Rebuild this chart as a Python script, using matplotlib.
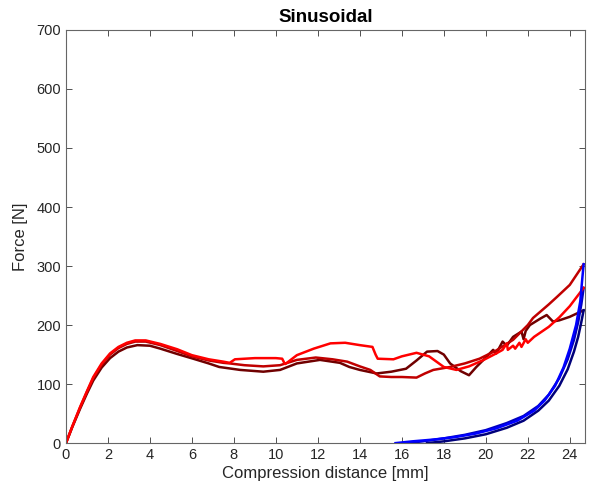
import numpy as np
from matplotlib import pyplot as plt

plt.rcParams['font.family'] = ['Liberation Sans', 'DejaVu Sans']

# loading curves (compression distance [mm], force [N])
x_load_a = [0, 0.3, 0.67, 1.0, 1.3, 1.7, 2.1, 2.5, 2.9, 3.3, 3.8, 4.5, 5.3, 6.0, 6.8, 7.5, 7.8, 8.05,
            9.0, 10.0, 10.3, 10.4, 10.45, 11.0, 11.8, 12.6, 13.3, 14.0, 14.6, 14.75, 14.85, 15.6, 16.0,
            16.7, 17.3, 18.0, 18.6, 19.2, 19.9, 20.5, 20.8, 21.0, 21.05, 21.3, 21.4, 21.6, 21.7, 21.9,
            22.0, 22.3, 23.0, 23.5, 24.0, 24.66]
y_load_a = [0, 28, 61, 88, 112, 135, 152, 163, 170, 174, 174, 168, 159, 149, 142, 138, 136, 142,
            144, 144, 143, 136, 134, 149, 160, 169, 170, 166, 163, 150, 143, 142, 147,
            153, 147, 129, 124, 130, 141, 152, 158, 169, 158, 165, 160, 170, 163, 176,
            170, 180, 197, 213, 232, 263]

x_load_b = [0, 0.3, 0.67, 1.0, 1.3, 1.7, 2.1, 2.5, 2.9, 3.3, 3.8, 4.5, 5.3, 6.0, 6.8, 7.5, 7.8, 8.5,
            9.4, 10.2, 11.0, 11.9, 12.7, 13.4, 14.0, 14.5, 14.95, 15.5, 16.0, 16.7, 17.1, 17.5, 18.3,
            19.0, 19.7, 20.5, 21.3, 22.0, 22.25, 23.0, 23.4, 24.0, 24.66]
y_load_b = [0, 28, 60, 87, 110, 133, 150, 161, 168, 172, 172, 166, 156, 147, 140, 136, 135, 132,
            130, 132, 141, 145, 142, 138, 130, 124, 113, 112, 112, 111, 118, 124, 129,
            135, 143, 157, 175, 200, 212, 235, 248, 268, 303]

x_load_c = [0, 0.3, 0.67, 1.0, 1.3, 1.7, 2.1, 2.5, 2.9, 3.4, 4.0, 4.5, 5.3, 6.06, 6.8, 7.3, 8.3,
            9.4, 10.2, 11.0, 12.1, 13.05, 13.5, 14.0, 14.8, 15.5, 16.2, 16.7, 17.2, 17.7, 18.0, 18.3,
            18.8, 19.2, 19.55, 20.0, 20.35, 20.5, 20.8, 21.0, 21.3, 21.7, 21.8, 21.9, 22.1, 22.6,
            22.9, 23.2, 23.5, 24.0, 24.66]
y_load_c = [0, 27, 58, 84, 106, 128, 144, 155, 162, 166, 165, 160, 151, 143, 135, 129, 124,
            121, 124, 135, 141, 136, 129, 124, 118, 121, 126, 140, 155, 156, 150, 135,
            122, 115, 129, 145, 158, 152, 172, 165, 180, 189, 176, 190, 200, 211,
            217, 206, 208, 214, 225]

# unloading curves
x_unload_a = [24.66, 24.6, 24.5, 24.3, 24.0, 23.7, 23.3, 22.8, 22.3, 21.5, 20.5, 19.5, 18.5, 17.5, 16.5, 15.7]
y_unload_a = [303, 280, 240, 200, 160, 128, 97, 72, 55, 38, 25, 16, 10, 6, 3, 0]

x_unload_b = [24.66, 24.55, 24.4, 24.2, 23.9, 23.5, 23.0, 22.5, 21.8, 21.0, 20.0, 19.0, 18.0, 17.0, 16.2]
y_unload_b = [263, 235, 205, 175, 142, 110, 82, 63, 46, 34, 22, 14, 8, 3, 0]

x_unload_c = [24.66, 24.55, 24.4, 24.2, 23.9, 23.5, 23.0, 22.5, 21.8, 21.0, 20.0, 19.0, 18.0, 17.2]
y_unload_c = [225, 205, 180, 155, 125, 97, 72, 55, 38, 26, 15, 8, 3, 0]

x_ticks = np.arange(0, 25, 2)
y_ticks = np.arange(0, 701, 100)

fig = plt.figure(figsize=(5.89, 4.99), dpi=100)
ax = fig.add_axes([0.112, 0.112, 0.881, 0.828])

lw = 1.8
ax.plot(x_load_c, y_load_c, color='#700000', lw=lw)
ax.plot(x_unload_c, y_unload_c, color='#00007a', lw=lw)
ax.plot(x_load_b, y_load_b, color='#c00000', lw=lw)
ax.plot(x_unload_b, y_unload_b, color='#0000c0', lw=lw)
ax.plot(x_load_a, y_load_a, color='#ff0000', lw=lw)
ax.plot(x_unload_a, y_unload_a, color='#0000ff', lw=lw)

ax.set_xlim(0, 24.72)
ax.set_ylim(0, 700)
ax.set_xticks(x_ticks)
ax.set_yticks(y_ticks)
ax.tick_params(direction='in', top=True, right=True, length=4, width=0.7,
               color='#505050', labelsize=10.5, labelcolor='#262626')
for s in ax.spines.values():
    s.set_color('#666666')
    s.set_linewidth(0.8)

ax.set_xlabel('Compression distance [mm]', fontsize=12, color='#262626', labelpad=3)
ax.set_ylabel('Force [N]', fontsize=12, color='#262626', labelpad=6)
ax.set_title('Sinusoidal', fontsize=13.5, fontweight='bold', pad=6)

fig.savefig('out.png', dpi=100)
